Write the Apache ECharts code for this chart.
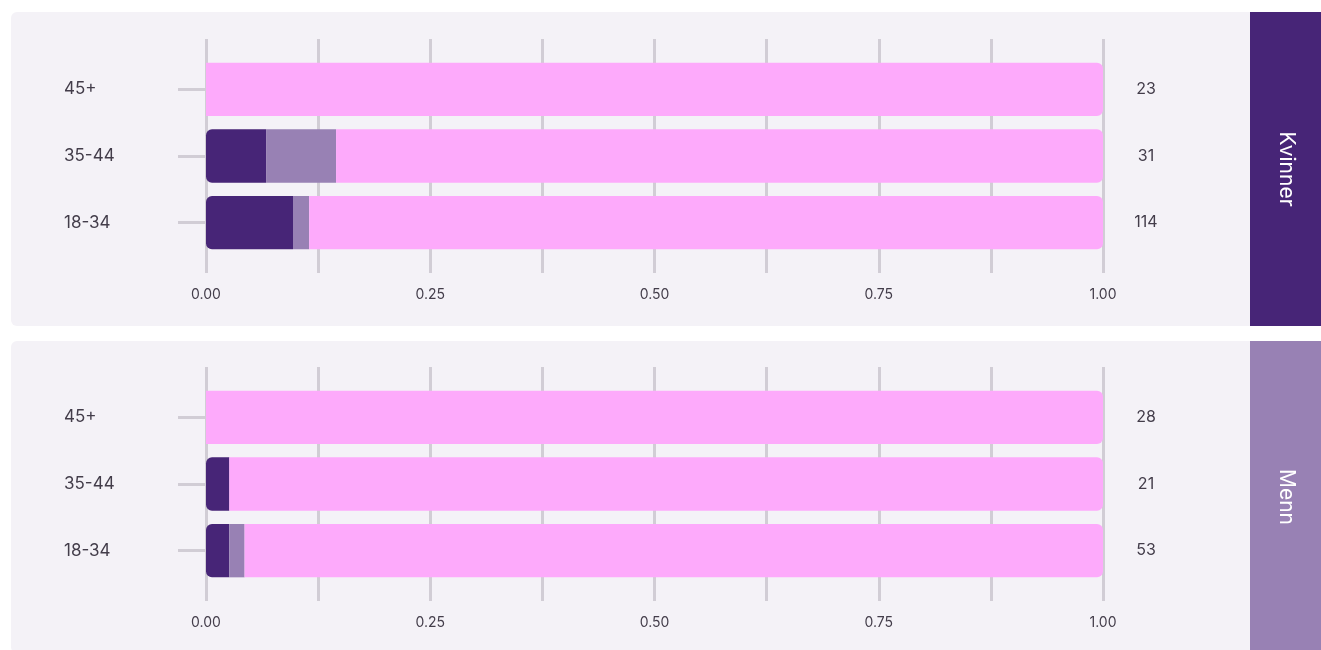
<!DOCTYPE html>
<html>
<head>
<meta charset="utf-8">
<script src="https://cdn.jsdelivr.net/npm/echarts@6/dist/echarts.min.js"></script>
<style>html,body{margin:0;padding:0;background:#fff;}#c{width:1321px;height:650px;}</style>
</head>
<body>
<div id="c"></div>
<script>
var categories = ['18-34', '35-44', '45+'];
var panels = ['Kvinner', 'Menn'];
var xTicks = [0, 0.25, 0.5, 0.75, 1];
// Kvinner
var kvDark = [0.097, 0.067, 0];
var kvMid = [0.018, 0.078, 0];
var kvPink = [0.885, 0.855, 1];
var kvN = [114, 31, 23];
// Menn
var mnDark = [0.026, 0.026, 0];
var mnMid = [0.017, 0, 0];
var mnPink = [0.957, 0.974, 1];
var mnN = [53, 21, 28];

var C_DARK = '#472577', C_MID = '#9881B4', C_PINK = '#FDAAFB';
var TXT = '#433d4a', GRID = '#d1cdd5', PANEL = '#f4f2f7';
var FONT = 'Inter, "Noto Sans", sans-serif';

var chart = echarts.init(document.getElementById('c'), null, {renderer: 'canvas'});

var layout = [
  {gridTop: 39, barTop: 56, panelTop: 12, panelH: 314, strip: C_DARK},
  {gridTop: 367, barTop: 384, panelTop: 341, panelH: 312, strip: C_MID}
];
var sets = [[kvDark, kvMid, kvPink, kvN], [mnDark, mnMid, mnPink, mnN]];

var grids = [], xAxes = [], yAxes = [], series = [], graphics = [];
var R = 6;

layout.forEach(function (L, p) {
  graphics.push({type: 'rect', z: -10, shape: {x: 11, y: L.panelTop, width: 1250, height: L.panelH, r: [6, 0, 0, 6]}, style: {fill: PANEL}});
  graphics.push({type: 'rect', z: -9, shape: {x: 1250, y: L.panelTop, width: 71, height: L.panelH}, style: {fill: L.strip}});
  graphics.push({type: 'text', z: 5, x: 1286, y: L.panelTop + L.panelH / 2, rotation: -Math.PI / 2,
    style: {text: panels[p], fill: '#ffffff', font: '21px ' + FONT, align: 'center', verticalAlign: 'middle'}});

  var g0 = grids.length;
  grids.push({left: 206, width: 897, top: L.gridTop, height: 234});
  grids.push({left: 206, width: 897, top: L.barTop, height: 200});

  xAxes.push({gridIndex: g0, type: 'value', min: 0, max: 1, interval: 0.125,
    axisLine: {show: false}, axisTick: {show: false},
    splitLine: {show: true, lineStyle: {color: GRID, width: 3}},
    axisLabel: {margin: 15, color: TXT, fontFamily: FONT, fontSize: 14,
      formatter: function (v) { return xTicks.some(function (t) { return Math.abs(t - v) < 1e-9; }) ? v.toFixed(2) : ''; }}});
  xAxes.push({gridIndex: g0 + 1, type: 'value', min: 0, max: 1, show: false});

  yAxes.push({gridIndex: g0, type: 'category', data: categories, show: false});
  var d = sets[p];
  yAxes.push({gridIndex: g0 + 1, type: 'category', data: categories, position: 'left',
    axisLine: {show: false},
    axisTick: {show: true, alignWithLabel: true, length: 28, lineStyle: {color: GRID, width: 3}},
    axisLabel: {align: 'left', margin: 142, color: TXT, fontFamily: FONT, fontSize: 17}});
  yAxes.push({gridIndex: g0 + 1, type: 'category', data: d[3].map(String), position: 'right',
    axisLine: {show: false}, axisTick: {show: false},
    axisLabel: {align: 'center', margin: 43, color: TXT, fontFamily: FONT, fontSize: 16}});

  var segs = [d[0], d[1], d[2]];
  var colors = [C_DARK, C_MID, C_PINK];
  var yIdx = yAxes.length - 2;
  segs.forEach(function (arr, si) {
    var data = arr.map(function (v, ci) {
      var first = -1, last = -1;
      for (var k = 0; k < 3; k++) { if (segs[k][ci] > 0) { if (first < 0) first = k; last = k; } }
      var leftR = (si === first && segs[0][ci] > 0) ? R : 0;
      var rightR = (si === last) ? R : 0;
      return {value: v, itemStyle: {borderRadius: [leftR, rightR, rightR, leftR]}};
    });
    series.push({type: 'bar', name: 's' + p + si, stack: 'st' + p, xAxisIndex: g0 + 1, yAxisIndex: yIdx,
      barWidth: '80%', data: data, itemStyle: {color: colors[si]}, silent: true, animation: false});
  });
});

chart.setOption({
  animation: false,
  textStyle: {fontFamily: FONT},
  grid: grids, xAxis: xAxes, yAxis: yAxes, series: series, graphic: graphics
});
</script>
</body>
</html>
